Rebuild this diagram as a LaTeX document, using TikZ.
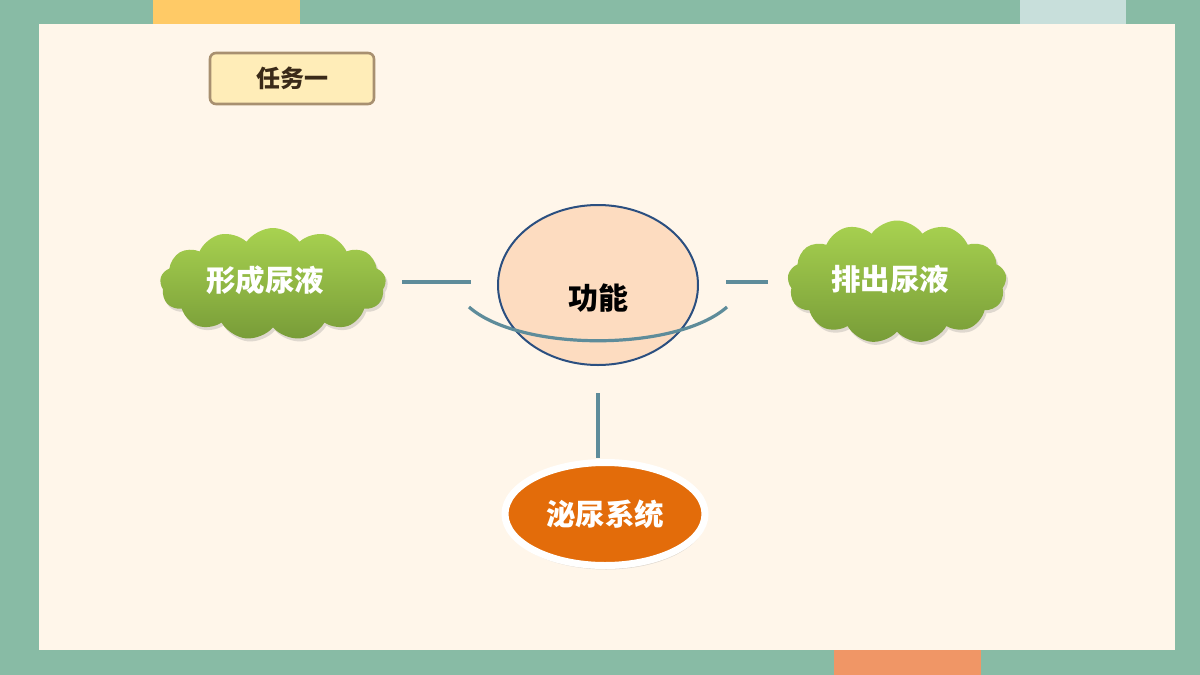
\documentclass[tikz,border=0pt]{standalone}
\usepackage{fontspec}
\setmainfont{Noto Sans CJK SC}
\usetikzlibrary{shapes.symbols,shapes.geometric,shadows}
\definecolor{frame}{HTML}{88BBA5}
\definecolor{panel}{HTML}{FFF6EA}
\definecolor{stripY}{HTML}{FFCA66}
\definecolor{stripB}{HTML}{C8DFDB}
\definecolor{stripO}{HTML}{F09666}
\definecolor{taskfill}{HTML}{FFEDB8}
\definecolor{taskline}{HTML}{A89070}
\definecolor{tasktext}{HTML}{3A2A18}
\definecolor{greenT}{HTML}{A8D250}
\definecolor{greenB}{HTML}{789C38}
\definecolor{peach}{HTML}{FDDCC0}
\definecolor{navy}{HTML}{2B4F80}
\definecolor{teal}{HTML}{5E8C9A}
\definecolor{orangeE}{HTML}{E36C0A}
\tikzset{
  cloudnode/.style={cloud, cloud puffs=13, cloud puff arc=110, aspect=2.1,
    top color=greenT, bottom color=greenB, draw=none, inner sep=0pt,
    drop shadow={opacity=0.25, shadow xshift=2pt, shadow yshift=-3pt}},
  bigtext/.style={text=white, font=\fontsize{29.5}{31}\selectfont\bfseries},
  link/.style={draw=teal, line width=3.2pt},
}
\begin{document}
\begin{tikzpicture}[x=1pt,y=-1pt]
\useasboundingbox (0,0) rectangle (1200,675);
% background frame
\fill[frame] (0,0) rectangle (1200,675);
\fill[stripY] (153,0) rectangle (300,24);
\fill[stripB] (1020,0) rectangle (1126,24);
\fill[stripO] (834,650) rectangle (981,675);
\fill[panel] (39,24) rectangle (1175,650);
% task box
\node[draw=taskline, line width=2.6pt, fill=taskfill, rounded corners=6pt,
  minimum width=164pt, minimum height=51pt, inner sep=0pt,
  text=tasktext, font=\fontsize{24}{26}\selectfont\bfseries] (task) at (292,78.5) {任务一};
% clouds
\node[cloudnode, minimum width=226pt, minimum height=112pt] (cl) at (273,284) {};
\node[bigtext] (tl) at (265,280) {形成尿液};
\node[cloudnode, minimum width=219pt, minimum height=123pt] (cr) at (897,282) {};
\node[bigtext] (tr) at (890,279) {排出尿液};
% centre ellipse
\node[ellipse, draw=navy, line width=2pt, fill=peach, minimum width=200pt,
  minimum height=160pt, inner sep=0pt] (fn) at (598,285) {};
\node[font=\fontsize{30}{32}\selectfont\bfseries] (fnt) at (598,298) {功能};
% arc
\coordinate (a1) at (469,307);
\coordinate (a2) at (727,307);
\draw[link] (a1) .. controls (520,352) and (676,352) .. (a2);
% connectors
\coordinate (l1) at (402,282);
\coordinate (l2) at (471,282);
\coordinate (r1) at (726,282);
\coordinate (r2) at (768,282);
\coordinate (v1) at (598,393);
\coordinate (v2) at (598,458);
\draw[link] (l1) -- (l2);
\draw[link] (r1) -- (r2);
\draw[link] (v1) -- (v2);
% bottom ellipse
\node[ellipse, draw=white, line width=7pt, fill=orangeE, minimum width=200pt,
  minimum height=103pt, inner sep=0pt,
  drop shadow={opacity=0.25, shadow xshift=1pt, shadow yshift=-4pt},
  bigtext] (sys) at (605,514) {泌尿系统};
\end{tikzpicture}
\end{document}
